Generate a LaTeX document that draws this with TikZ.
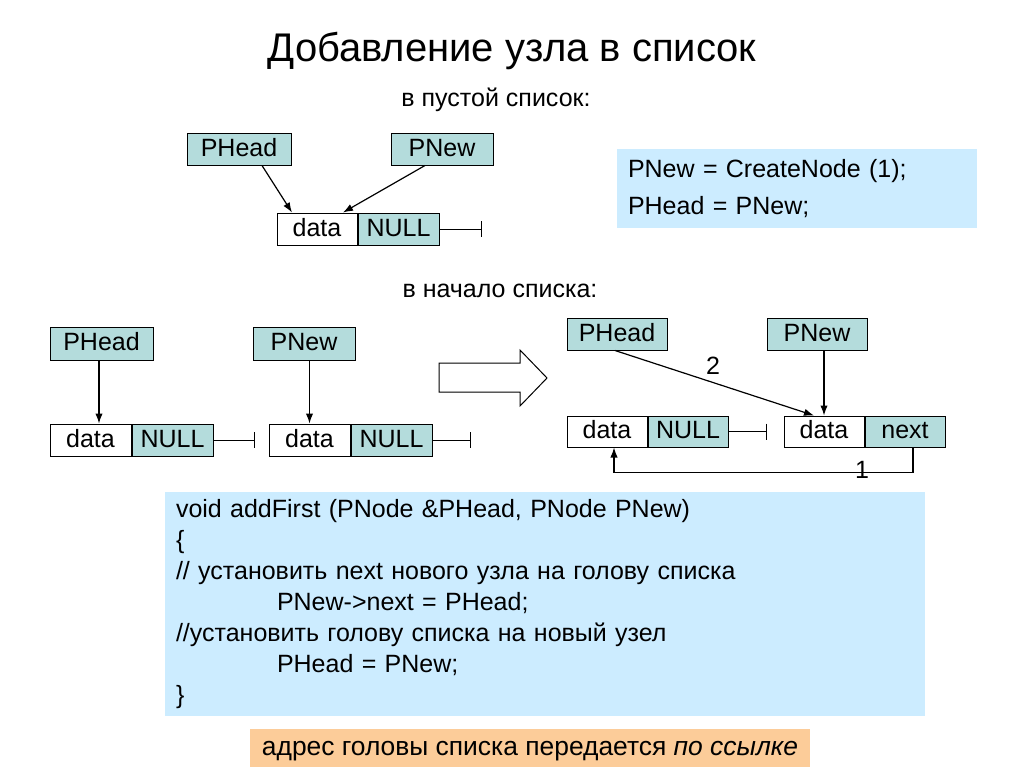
\documentclass[tikz,border=0pt]{standalone}
\usepackage{fontspec}
\setmainfont{Liberation Sans}
\usetikzlibrary{arrows.meta,calc}
\definecolor{cellfill}{RGB}{180,220,220}
\definecolor{codefill}{RGB}{204,236,255}
\definecolor{notefill}{RGB}{252,204,153}
\begin{document}
\begin{tikzpicture}[x=0.75pt,y=-0.75pt,
  every node/.style={font=\fontsize{18.75}{22}\selectfont},
  ptr/.style={draw, line width=0.75pt, fill=cellfill, inner sep=0pt, minimum height=24pt, text height=13.4pt, text depth=2.4pt},
  datacell/.style={draw, line width=0.75pt, fill=white, inner sep=0pt, minimum height=24pt, text height=13.4pt, text depth=2.4pt},
  ar/.style={line width=0.9pt, -{Latex[length=7.5pt,width=5.5pt]}},
  term/.style={line width=0.75pt, -{Bar[width=12pt]}},
  codebox/.style={fill=codefill, inner xsep=8.25pt, inner ysep=0pt, align=left},
  lbl/.style={inner sep=0pt}]
\useasboundingbox (0,0) rectangle (1024,767);

\node[lbl, font=\fontsize{30}{35}\selectfont] (title) at (512,51) {Добавление узла в список};
\node[lbl] (sub1) at (496,100) {в пустой список:};

% empty list
\node[ptr, minimum width=78pt] (ph1) at (239,149) {PHead};
\node[ptr, minimum width=76.5pt] (pn1) at (442,149) {PNew};
\node[datacell, minimum width=60pt] (d1) at (317,229) {data};
\node[ptr, minimum width=60.75pt, anchor=west] (n1) at (d1.east) {NULL};
\coordinate (e1) at (482,229);
\draw[term] (n1.east) -- (e1);
\draw[ar] ($(ph1.south)+(23,0)$) -- ($(d1.north)+(-25,0)$);
\draw[ar] ($(pn1.south)+(-17,0)$) -- ($(d1.north)+(26,0)$);

\node[codebox, text width=253.5pt, minimum height=59.25pt,
  font=\fontsize{18.75}{27.75}\selectfont] (cb1) at (797,188.5)
  {PNew = CreateNode (1);\\PHead = PNew;};

\node[lbl] (sub2) at (500,291) {в начало списка:};

% before
\node[ptr, minimum width=77.25pt, minimum height=24.75pt] (ph2) at (101.5,343.5) {PHead};
\node[ptr, minimum width=76.5pt, minimum height=24.75pt] (pn2) at (304,343.5) {PNew};
\node[datacell, minimum width=60.75pt] (ad) at (90.5,440) {data};
\node[ptr, minimum width=60.75pt, anchor=west] (an) at (ad.east) {NULL};
\coordinate (ae) at (255,440);
\draw[term] (an.east) -- (ae);
\node[datacell, minimum width=60.75pt] (bd) at (309.5,440) {data};
\node[ptr, minimum width=60.75pt, anchor=west] (bn) at (bd.east) {NULL};
\coordinate (be) at (471,440);
\draw[term] (bn.east) -- (be);
\coordinate (t2) at ($(ph2.south)+(-2.5,0)$);
\draw[ar] (t2) -- (t2 |- ad.north);
\draw[ar] (bd.north |- pn2.south) -- (bd.north);

% big arrow
\draw[line width=0.75pt, fill=white] (439,363) -- (520,363) -- (520,350) -- (547,378)
  -- (520,406) -- (520,392) -- (439,392) -- cycle;

% after
\node[ptr, minimum width=75pt] (ph3) at (617,334) {PHead};
\node[ptr, minimum width=75pt] (pn3) at (817,334) {PNew};
\node[datacell, minimum width=60pt, minimum height=23.25pt] (cd) at (607,431.5) {data};
\node[ptr, minimum width=60pt, minimum height=23.25pt, anchor=west] (cn) at (cd.east) {NULL};
\coordinate (ce) at (767,431.5);
\draw[term] (cn.east) -- (ce);
\node[datacell, minimum width=60pt, minimum height=23.25pt] (dd) at (824,431.5) {data};
\node[ptr, minimum width=60pt, minimum height=23.25pt, anchor=west] (dn) at (dd.east) {next};
\draw[ar] (dd.north |- pn3.south) -- (dd.north);
\draw[ar] ($(ph3.south)+(-2,0)$) -- ($(dd.north)+(-10,0)$);
\draw[ar] ($(dn.south)+(8,0)$) -- ++(0,25) -| ($(cd.south)+(7,0)$);
\node[lbl] (l2) at (713,366) {2};
\node[lbl] (l1) at (862,470) {1};

% code
\node[codebox, text width=553.5pt, minimum height=168pt,
  font=\fontsize{18.75}{23.3}\selectfont] (cb2) at (545,604)
  {void addFirst (PNode \&PHead, PNode PNew)\\
   \{\\
   // установить next нового узла на голову списка\\
   \hspace*{75.75pt}PNew->next = PHead;\\
   //установить голову списка на новый узел\\
   \hspace*{75.75pt}PHead = PNew;\\
   \}};

\node[fill=notefill, minimum width=420pt, minimum height=33pt, inner sep=0pt,
  font=\fontsize{19.8}{23}\selectfont] (note) at (530,751)
  {адрес головы списка передается \textit{по ссылке}};
\end{tikzpicture}
\end{document}
